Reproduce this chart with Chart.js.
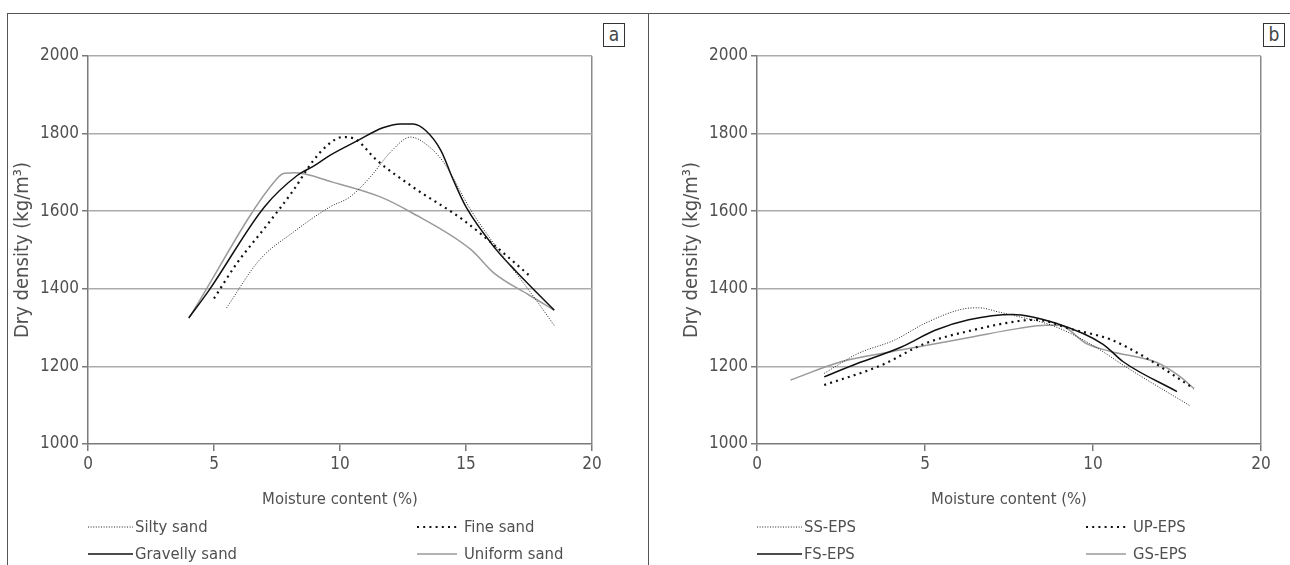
<!DOCTYPE html>
<html>
<head>
<meta charset="utf-8">
<script src="https://cdn.jsdelivr.net/npm/chart.js@4.4.1/dist/chart.umd.min.js"></script>
<style>
  html, body { margin:0; padding:0; background:#fff; }
  body { width:1290px; height:565px; position:relative; overflow:hidden; font-family:'DejaVu Sans Condensed', 'Liberation Sans', sans-serif; }
  .frame { position:absolute; left:7px; top:13px; width:1283px; height:552px; border-top:1.5px solid #555; border-left:1.5px solid #555; box-sizing:border-box; }
  .divider { position:absolute; left:648px; top:13px; width:0; height:552px; border-left:1.5px solid #555; }
  .tag { position:absolute; top:23px; width:22px; height:24px; border:1px solid #333; box-sizing:border-box; font-size:19px; color:#444; text-align:center; line-height:21px; }
  canvas { position:absolute; top:15px; }
</style>
</head>
<body>
<div class="frame"></div>
<div class="divider"></div>
<div class="tag" style="left:603px">a</div>
<div class="tag" style="left:1263px">b</div>
<canvas id="ca" width="640" height="550" style="left:8px"></canvas>
<canvas id="cb" width="640" height="550" style="left:650px"></canvas>
<script>
// ---------- data ----------
const yTicks = [1000, 1200, 1400, 1600, 1800, 2000];
const yTickLabels = ['1000', '1200', '1400', '1600', '1800', '2000'];
const xTicksA = [0, 5, 10, 15, 20];
const xTickLabelsA = ['0', '5', '10', '15', '20'];
const xTicksB = [0, 5, 10, 15];
const xTickLabelsB = ['0', '5', '10', '20'];

const labelsA = ['Silty sand', 'Fine sand', 'Gravelly sand', 'Uniform sand'];
const labelsB = ['SS-EPS', 'UP-EPS', 'FS-EPS', 'GS-EPS'];

const siltySand = [[5.5,1351],[6.8,1474],[8.15,1546],[9.6,1611],[10.4,1637],[11.2,1688],[12.0,1752],[12.8,1791],[13.3,1778],[14.1,1727],[15.2,1602],[16.2,1508],[17.5,1396],[18.5,1306]];
const fineSand = [[5.0,1375],[5.9,1465],[7.1,1564],[8.15,1654],[8.9,1727],[9.5,1770],[10.1,1791],[10.4,1790],[10.7,1782],[11.4,1735],[12.9,1662],[14.9,1577],[16.2,1508],[17.5,1435]];
const gravellySand = [[4.0,1325],[4.8,1396],[7.0,1611],[8.3,1692],[9.0,1718],[9.6,1744],[10.7,1782],[11.7,1815],[12.4,1825],[12.9,1825],[13.4,1808],[14.0,1757],[14.5,1680],[15.0,1611],[16.2,1501],[17.0,1444],[18.5,1345]];
const uniformSand = [[4.0,1324],[7.5,1684],[7.8,1698],[8.2,1699],[9.7,1675],[11.6,1637],[12.8,1598],[15.2,1501],[16.1,1441],[17.5,1384],[18.5,1345]];

const ssEps = [[2.0,1182],[3.0,1233],[4.1,1268],[5.0,1311],[6.2,1349],[6.6,1351],[7.2,1340],[7.8,1328],[8.8,1305],[9.9,1259],[11.1,1192],[12.9,1098]];
const upEps = [[2.0,1152],[3.7,1203],[5.0,1259],[6.4,1293],[7.8,1317],[8.3,1320],[9.4,1295],[10.5,1270],[11.6,1221],[13.0,1143]];
const fsEps = [[2.0,1173],[3.0,1208],[4.3,1250],[5.3,1293],[6.3,1320],[7.6,1334],[8.9,1311],[10.3,1257],[10.9,1212],[12.5,1135]];
const gsEps = [[1.0,1165],[2.5,1212],[4.0,1238],[5.1,1255],[6.4,1276],[7.8,1298],[8.6,1306],[9.0,1306],[9.8,1259],[10.5,1239],[11.9,1210],[12.6,1173],[13.0,1143]];

// ---------- styles ----------
const FONT = "'DejaVu Sans Condensed', 'Liberation Sans', sans-serif";
const TEXT = '#505050';
const styles = [
  { borderColor:'#222', borderWidth:1, borderDash:[1,1.6] },        // fine dotted
  { borderColor:'#111', borderWidth:2.2, borderDash:[2,4.2] },      // coarse dotted
  { borderColor:'#111', borderWidth:1.5, borderDash:[] },           // solid black
  { borderColor:'#9a9a9a', borderWidth:1.5, borderDash:[] }         // solid grey
];

function toPts(arr) { return arr.map(p => ({x:p[0], y:p[1]})); }

const legendPlugin = {
  id: 'customLegend',
  afterDraw(chart, args, opts) {
    const ctx = chart.ctx;
    const L = chart.chartArea.left;
    chart.data.datasets.forEach((ds, i) => {
      const col = i % 2, row = Math.floor(i / 2);
      const x0 = L + (col ? opts.col2 : 0);
      const x1 = x0 + (col ? 40 : 45);
      const y = opts.row1 + row * opts.rowGap;
      ctx.save();
      ctx.strokeStyle = ds.borderColor;
      ctx.lineWidth = ds.borderWidth;
      ctx.setLineDash(ds.borderDash || []);
      ctx.beginPath(); ctx.moveTo(x0, y); ctx.lineTo(x1, y); ctx.stroke();
      ctx.setLineDash([]);
      ctx.fillStyle = TEXT;
      ctx.font = '16.5px ' + FONT;
      ctx.textBaseline = 'middle';
      ctx.textAlign = 'left';
      ctx.fillText(ds.label, x1 + (col ? 7 : 2), y + 1);
      ctx.restore();
    });
  }
};

function makeChart(id, labels, series, xTicks, xLabels, xMax, padLeft, padRight, legendOpts) {
  const datasets = series.map((s, i) => Object.assign({
    label: labels[i],
    data: toPts(s),
    pointRadius: 0,
    fill: false,
    cubicInterpolationMode: 'monotone',
    borderCapStyle: 'butt'
  }, styles[i]));
  return new Chart(document.getElementById(id), {
    type: 'line',
    data: { datasets },
    options: {
      responsive: false,
      animation: false,
      devicePixelRatio: 1,
      layout: { padding: { left: padLeft, right: padRight, top: 41, bottom: 55 } },
      plugins: { legend: { display:false }, tooltip: { enabled:false }, customLegend: legendOpts },
      scales: {
        x: {
          type: 'linear', min: 0, max: xMax,
          afterBuildTicks: sc => { sc.ticks = xTicks.map(v => ({ value: v })); },
          afterFit: sc => { sc.height = 66; },
          ticks: { color: TEXT, font: { family: FONT, size: 17 }, padding: 3, maxRotation: 0,
                   callback: (v, i) => xLabels[i] },
          border: { display: true, color: '#7a7a7a', width: 1.5 },
          grid: { drawOnChartArea: true, drawTicks: true, tickLength: 7,
                  color: c => (c.tick && c.tick.value === xMax) ? '#8a8a8a' : 'rgba(0,0,0,0)',
                  tickColor: '#7a7a7a', lineWidth: 1.5 },
          title: { display: true, text: 'Moisture content (%)', color: TEXT, font: { family: FONT, size: 16.5 }, padding: { top: 0, bottom: 0 } }
        },
        y: {
          type: 'linear', min: 1000, max: 2000,
          afterBuildTicks: sc => { sc.ticks = yTicks.map(v => ({ value: v })); },
          afterFit: sc => { sc.width = 80; },
          ticks: { color: TEXT, font: { family: FONT, size: 17 }, padding: 3,
                   callback: (v, i) => yTickLabels[i] },
          border: { display: true, color: '#7a7a7a', width: 1.5 },
          grid: { drawTicks: true, tickLength: 6,
                  color: c => (c.tick && c.tick.value === 1000) ? 'rgba(0,0,0,0)' : '#ababab',
                  tickColor: '#7a7a7a', lineWidth: 1.5 },
          title: { display: true, text: 'Dry density (kg/m³)', color: TEXT, font: { family: FONT, size: 20 }, padding: { top: 3, bottom: 0 } }
        }
      }
    },
    plugins: [legendPlugin]
  });
}

makeChart('ca', labelsA, [siltySand, fineSand, gravellySand, uniformSand], xTicksA, xTickLabelsA, 20, 0, 56,
          { col2: 329, row1: 512, rowGap: 27 });
makeChart('cb', labelsB, [ssEps, upEps, fsEps, gsEps], xTicksB, xTickLabelsB, 15, 27, 29,
          { col2: 329, row1: 512, rowGap: 27 });
</script>
</body>
</html>
